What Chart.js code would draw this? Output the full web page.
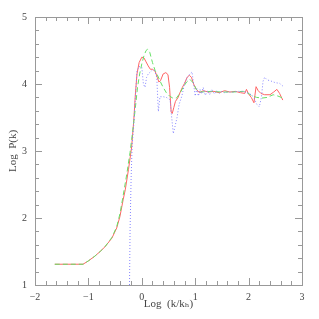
<!DOCTYPE html>
<html>
<head>
<meta charset="utf-8">
<script src="https://cdn.jsdelivr.net/npm/chart.js@4/dist/chart.umd.min.js"></script>
<style>
  html, body { margin: 0; padding: 0; background: #fff; }
  #wrap { width: 319px; height: 319px; }
</style>
</head>
<body>
<div id="wrap"><canvas id="chart"></canvas></div>
<script>
  // solid red curve
  const redX = [-1.63, -1.1, -1.0, -0.88, -0.78, -0.69, -0.56, -0.47, -0.41, -0.35, -0.31, -0.25, -0.19, -0.15, -0.12, -0.09, -0.05, 0.0, 0.04, 0.08, 0.12, 0.16, 0.2, 0.25, 0.29, 0.32, 0.35, 0.4, 0.45, 0.49, 0.52, 0.55, 0.57, 0.6, 0.63, 0.68, 0.72, 0.76, 0.8, 0.85, 0.89, 0.93, 0.97, 1.02, 1.08, 1.15, 1.25, 1.35, 1.45, 1.55, 1.65, 1.75, 1.85, 1.93, 1.96, 2.0, 2.05, 2.1, 2.14, 2.18, 2.23, 2.3, 2.4, 2.47, 2.53, 2.58, 2.64];
  const redY = [1.31, 1.31, 1.36, 1.43, 1.5, 1.57, 1.7, 1.85, 2.02, 2.27, 2.42, 2.72, 3.06, 3.46, 3.85, 4.15, 4.32, 4.4, 4.39, 4.33, 4.27, 4.22, 4.22, 4.19, 4.1, 4.03, 4.05, 4.15, 4.17, 4.14, 3.95, 3.58, 3.56, 3.65, 3.74, 3.8, 3.88, 3.95, 4.01, 4.1, 4.13, 4.1, 4.0, 3.92, 3.87, 3.9, 3.88, 3.89, 3.87, 3.9, 3.88, 3.89, 3.87, 3.86, 3.92, 3.85, 3.8, 3.72, 3.96, 3.9, 3.86, 3.84, 3.84, 3.88, 3.92, 3.86, 3.76];

  // dashed green curve
  const greenX = [-1.63, -1.1, -1.0, -0.88, -0.78, -0.69, -0.56, -0.47, -0.41, -0.35, -0.28, -0.22, -0.17, -0.12, -0.08, -0.04, 0.0, 0.04, 0.08, 0.11, 0.15, 0.2, 0.25, 0.3, 0.35, 0.4, 0.46, 0.52, 0.58, 0.65, 0.72, 0.78, 0.84, 0.9, 0.96, 1.02, 1.1, 1.3, 1.5, 1.7, 1.9, 1.96, 2.05, 2.15, 2.25, 2.35, 2.46, 2.55, 2.64];
  const greenY = [1.31, 1.31, 1.36, 1.43, 1.5, 1.57, 1.71, 1.87, 2.06, 2.33, 2.66, 2.98, 3.3, 3.65, 3.95, 4.15, 4.3, 4.42, 4.5, 4.52, 4.47, 4.32, 4.2, 4.12, 4.03, 3.95, 3.87, 3.82, 3.79, 3.79, 3.87, 3.96, 4.03, 4.07, 4.02, 3.92, 3.88, 3.89, 3.88, 3.88, 3.89, 3.88, 3.83, 3.8, 3.79, 3.8, 3.84, 3.82, 3.79];

  // dotted blue curve
  const blueX = [-0.23, -0.22, -0.2, -0.18, -0.15, -0.12, -0.09, -0.05, 0.0, 0.03, 0.06, 0.09, 0.12, 0.16, 0.2, 0.24, 0.28, 0.31, 0.34, 0.4, 0.46, 0.5, 0.53, 0.56, 0.59, 0.62, 0.66, 0.7, 0.75, 0.8, 0.85, 0.9, 0.94, 0.97, 1.0, 1.03, 1.06, 1.09, 1.12, 1.15, 1.19, 1.23, 1.27, 1.31, 1.36, 1.4, 1.45, 1.5, 1.55, 1.6, 1.7, 1.8, 1.9, 1.97, 2.05, 2.1, 2.15, 2.2, 2.24, 2.27, 2.3, 2.35, 2.4, 2.5, 2.58, 2.64];
  const blueY = [1.0, 1.8, 2.6, 3.1, 3.4, 3.8, 4.2, 4.26, 4.25, 4.0, 3.95, 4.1, 4.15, 4.18, 4.21, 4.2, 4.1, 3.59, 3.81, 3.81, 3.8, 3.78, 3.76, 3.5, 3.26, 3.36, 3.5, 3.7, 3.82, 4.0, 4.1, 4.15, 4.18, 4.0, 3.82, 3.93, 3.82, 3.92, 3.85, 3.95, 3.83, 3.9, 3.84, 3.92, 3.85, 3.9, 3.86, 3.89, 3.87, 3.88, 3.88, 3.89, 3.89, 3.87, 3.84, 3.8, 3.7, 3.66, 3.8, 4.04, 4.1, 4.06, 4.05, 4.02, 4.01, 3.97];

  const xTitle = 'Log  (k/k\u2095)';
  const yTitle = 'Log  P(k)';
  const xRange = [-2, 3];
  const yRange = [1, 5];

  const FONT = { family: '"Liberation Serif", "DejaVu Serif", serif', size: 10 };

  function toPoints(xs, ys) {
    return xs.map((x, i) => ({ x, y: ys[i] }));
  }

  function minus(value) {
    return String(value).replace('-', '\u2212');
  }

  // frame and inward ticks on all four sides
  const frameTicks = {
    id: 'frameTicks',
    afterDraw(chart) {
      const { ctx, chartArea: a, scales } = chart;
      const xs = scales.x;
      const ys = scales.y;
      ctx.save();
      ctx.strokeStyle = '#999';
      ctx.lineWidth = 1;
      ctx.strokeRect(Math.round(a.left) + 0.5, Math.round(a.top) + 0.5, Math.round(a.right - a.left), Math.round(a.bottom - a.top));
      ctx.beginPath();
      for (let i = 0; i <= 25; i++) {
        const v = xRange[0] + i * 0.2;
        const len = i % 5 === 0 ? 7 : 4;
        const px = Math.round(xs.getPixelForValue(v)) + 0.5;
        ctx.moveTo(px, a.bottom);
        ctx.lineTo(px, a.bottom - len);
        ctx.moveTo(px, a.top);
        ctx.lineTo(px, a.top + len);
      }
      for (let i = 0; i <= 20; i++) {
        const v = yRange[0] + i * 0.2;
        const len = i % 5 === 0 ? 7 : 4;
        const py = Math.round(ys.getPixelForValue(v)) + 0.5;
        ctx.moveTo(a.left, py);
        ctx.lineTo(a.left + len, py);
        ctx.moveTo(a.right, py);
        ctx.lineTo(a.right - len, py);
      }
      ctx.stroke();
      ctx.restore();
    }
  };

  new Chart(document.getElementById('chart'), {
    type: 'line',
    data: {
      datasets: [
        {
          data: toPoints(blueX, blueY),
          borderColor: '#8585ff',
          borderWidth: 1,
          borderDash: [1, 2]
        },
        {
          data: toPoints(greenX, greenY),
          borderColor: '#66e066',
          borderWidth: 1,
          borderDash: [5, 3]
        },
        {
          data: toPoints(redX, redY),
          borderColor: '#ff6464',
          borderWidth: 1
        }
      ]
    },
    options: {
      responsive: true,
      maintainAspectRatio: false,
      animation: false,
      layout: { padding: { top: 17, right: 17, left: 0, bottom: 0 } },
      elements: {
        point: { radius: 0 },
        line: { tension: 0 }
      },
      plugins: {
        legend: { display: false },
        tooltip: { enabled: false }
      },
      scales: {
        x: {
          type: 'linear',
          min: xRange[0],
          max: xRange[1],
          grid: { display: false, drawTicks: false },
          border: { display: false },
          ticks: {
            stepSize: 1,
            padding: 6,
            color: '#444',
            font: FONT,
            maxRotation: 0,
            callback: (v) => minus(v)
          },
          title: {
            display: true,
            text: xTitle,
            color: '#444',
            font: { family: FONT.family, size: 11 },
            padding: { top: 0, bottom: 8 }
          },
          afterFit: (s) => { s.height = 34; }
        },
        y: {
          type: 'linear',
          min: yRange[0],
          max: yRange[1],
          grid: { display: false, drawTicks: false },
          border: { display: false },
          ticks: {
            stepSize: 1,
            padding: 8,
            color: '#444',
            font: FONT,
            callback: (v) => minus(v)
          },
          title: {
            display: true,
            text: yTitle,
            color: '#444',
            font: { family: FONT.family, size: 11 },
            padding: { top: 7, bottom: 0 }
          },
          afterFit: (s) => { s.width = 35; }
        }
      }
    },
    plugins: [frameTicks]
  });
</script>
</body>
</html>
